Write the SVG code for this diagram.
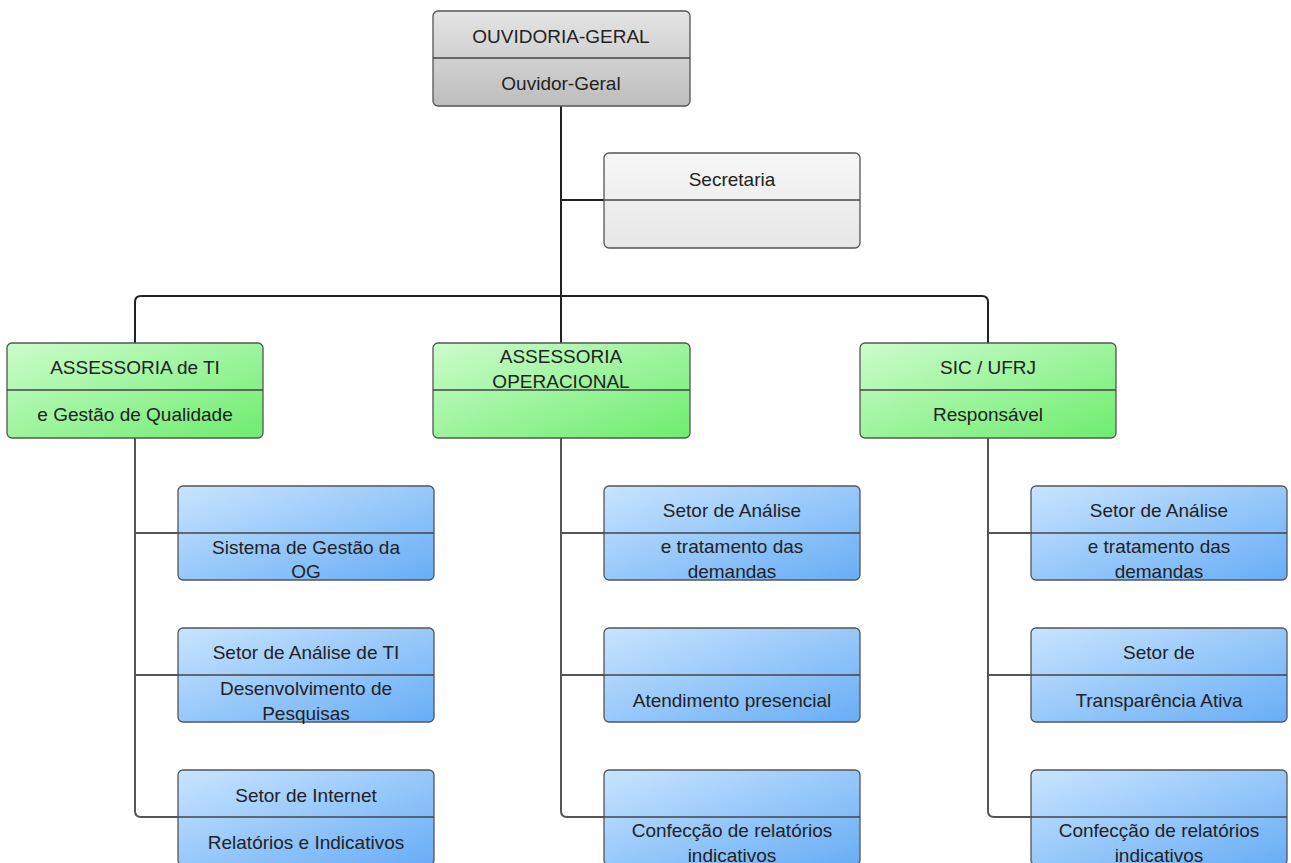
<svg xmlns="http://www.w3.org/2000/svg" width="1291" height="863" viewBox="0 0 1291 863">
<defs>
<linearGradient id="gGray" x1="0" y1="0" x2="0" y2="1"><stop offset="0" stop-color="#e4e4e4"/><stop offset="1" stop-color="#bdbdbd"/></linearGradient>
<linearGradient id="gLight" x1="0" y1="0" x2="0" y2="1"><stop offset="0" stop-color="#f7f7f7"/><stop offset="1" stop-color="#e6e6e6"/></linearGradient>
<linearGradient id="gGreen" x1="0" y1="0" x2="1" y2="1"><stop offset="0" stop-color="#ccfccc"/><stop offset="1" stop-color="#6eec6e"/></linearGradient>
<linearGradient id="gBlue" x1="0" y1="0" x2="1" y2="1"><stop offset="0" stop-color="#c8e4ff"/><stop offset="1" stop-color="#68adf6"/></linearGradient>
</defs>
<style>
.box{stroke:#555;stroke-width:1.3}
.div{stroke:#444;stroke-width:1.5}
.t{font-family:"Liberation Sans",Arial,sans-serif;font-size:19px;fill:#222;text-anchor:middle}
.c{fill:none;stroke:#222;stroke-width:2}
.c2{fill:none;stroke:#555;stroke-width:2}
</style>
<rect width="1291" height="863" fill="#ffffff"/>
<g id="connectors">
<path class="c" d="M561 106 V296"/>
<path class="c" d="M561 200 H604"/>
<path class="c" d="M135 343 V302 Q135 296 141 296 H982 Q988 296 988 302 V343"/>
<path class="c" d="M561 296 V343"/>
<path class="c2" d="M135 438 V811 Q135 817 141 817 H178"/>
<path class="c2" d="M135 533 H178 M135 675 H178"/>
<path class="c2" d="M561 438 V811 Q561 817 567 817 H604"/>
<path class="c2" d="M561 533 H604 M561 675 H604"/>
<path class="c2" d="M988 438 V811 Q988 817 994 817 H1031"/>
<path class="c2" d="M988 533 H1031 M988 675 H1031"/>
</g>
<g id="ouvidoria">
<rect class="box" x="433" y="11" width="257" height="95" rx="5" fill="url(#gGray)"/>
<line class="div" x1="433" y1="58" x2="690" y2="58"/>
<text class="t" x="561" y="43">OUVIDORIA-GERAL</text>
<text class="t" x="561" y="90">Ouvidor-Geral</text>
</g>
<g id="secretaria">
<rect class="box" x="604" y="153" width="256" height="95" rx="5" fill="url(#gLight)"/>
<line class="div" x1="604" y1="200" x2="860" y2="200"/>
<text class="t" x="732" y="186">Secretaria</text>
</g>
<g id="assessoria-ti">
<rect class="box" x="7" y="343" width="256" height="95" rx="5" fill="url(#gGreen)"/>
<line class="div" x1="7" y1="390" x2="263" y2="390"/>
<text class="t" x="135" y="374">ASSESSORIA de TI</text>
<text class="t" x="135" y="421">e Gestão de Qualidade</text>
</g>
<g id="assessoria-op">
<rect class="box" x="433" y="343" width="257" height="95" rx="5" fill="url(#gGreen)"/>
<line class="div" x1="433" y1="390" x2="690" y2="390"/>
<text class="t" x="561" y="363">ASSESSORIA</text>
<text class="t" x="561" y="388">OPERACIONAL</text>
</g>
<g id="sic">
<rect class="box" x="860" y="343" width="256" height="95" rx="5" fill="url(#gGreen)"/>
<line class="div" x1="860" y1="390" x2="1116" y2="390"/>
<text class="t" x="988" y="374">SIC / UFRJ</text>
<text class="t" x="988" y="421">Responsável</text>
</g>
<g id="sistema-gestao">
<rect class="box" x="178" y="486" width="256" height="94" rx="5" fill="url(#gBlue)"/>
<line class="div" x1="178" y1="533" x2="434" y2="533"/>
<text class="t" x="306" y="554">Sistema de Gestão da</text>
<text class="t" x="306" y="578">OG</text>
</g>
<g id="setor-analise-ti">
<rect class="box" x="178" y="628" width="256" height="94" rx="5" fill="url(#gBlue)"/>
<line class="div" x1="178" y1="675" x2="434" y2="675"/>
<text class="t" x="306" y="659">Setor de Análise de TI</text>
<text class="t" x="306" y="695">Desenvolvimento de</text>
<text class="t" x="306" y="720">Pesquisas</text>
</g>
<g id="setor-internet">
<rect class="box" x="178" y="770" width="256" height="95" rx="5" fill="url(#gBlue)"/>
<line class="div" x1="178" y1="817" x2="434" y2="817"/>
<text class="t" x="306" y="802">Setor de Internet</text>
<text class="t" x="306" y="849">Relatórios e Indicativos</text>
</g>
<g id="op-analise">
<rect class="box" x="604" y="486" width="256" height="94" rx="5" fill="url(#gBlue)"/>
<line class="div" x1="604" y1="533" x2="860" y2="533"/>
<text class="t" x="732" y="517">Setor de Análise</text>
<text class="t" x="732" y="553">e tratamento das</text>
<text class="t" x="732" y="578">demandas</text>
</g>
<g id="op-atendimento">
<rect class="box" x="604" y="628" width="256" height="94" rx="5" fill="url(#gBlue)"/>
<line class="div" x1="604" y1="675" x2="860" y2="675"/>
<text class="t" x="732" y="707">Atendimento presencial</text>
</g>
<g id="op-confeccao">
<rect class="box" x="604" y="770" width="256" height="95" rx="5" fill="url(#gBlue)"/>
<line class="div" x1="604" y1="817" x2="860" y2="817"/>
<text class="t" x="732" y="837">Confecção de relatórios</text>
<text class="t" x="732" y="862">indicativos</text>
</g>
<g id="sic-analise">
<rect class="box" x="1031" y="486" width="256" height="94" rx="5" fill="url(#gBlue)"/>
<line class="div" x1="1031" y1="533" x2="1287" y2="533"/>
<text class="t" x="1159" y="517">Setor de Análise</text>
<text class="t" x="1159" y="553">e tratamento das</text>
<text class="t" x="1159" y="578">demandas</text>
</g>
<g id="sic-transparencia">
<rect class="box" x="1031" y="628" width="256" height="94" rx="5" fill="url(#gBlue)"/>
<line class="div" x1="1031" y1="675" x2="1287" y2="675"/>
<text class="t" x="1159" y="659">Setor de</text>
<text class="t" x="1159" y="707">Transparência Ativa</text>
</g>
<g id="sic-confeccao">
<rect class="box" x="1031" y="770" width="256" height="95" rx="5" fill="url(#gBlue)"/>
<line class="div" x1="1031" y1="817" x2="1287" y2="817"/>
<text class="t" x="1159" y="837">Confecção de relatórios</text>
<text class="t" x="1159" y="862">indicativos</text>
</g>
</svg>
